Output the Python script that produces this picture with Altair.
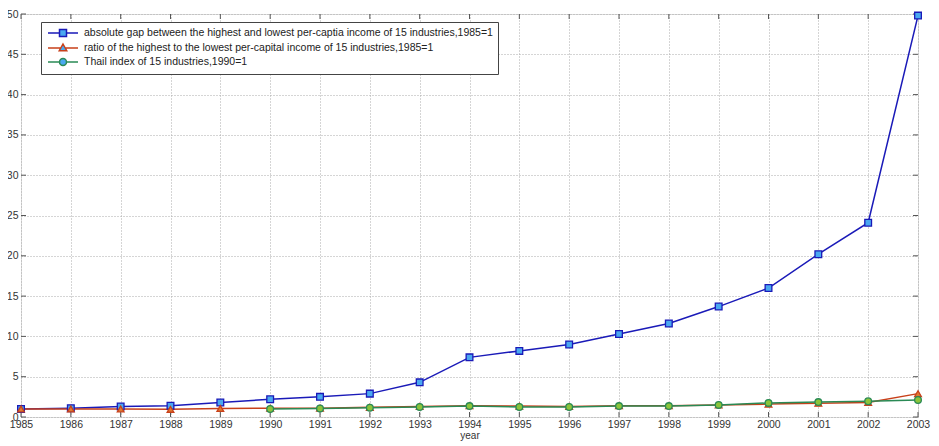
import altair as alt
import pandas as pd

years = list(range(1985, 2004))
y_ticks = list(range(0, 51, 5))
abs_gap = [1.0, 1.1, 1.3, 1.4, 1.8, 2.2, 2.5, 2.9, 4.3, 7.4, 8.2, 9.0, 10.3, 11.6, 13.7, 16.0, 20.2, 24.1, 49.8]
ratio = [1.0, 1.0, 1.0, 0.95, 1.05, 1.1, 1.1, 1.2, 1.3, 1.4, 1.35, 1.3, 1.4, 1.4, 1.5, 1.6, 1.7, 1.8, 2.9]
theil = [None, None, None, None, None, 1.0, 1.05, 1.15, 1.25, 1.35, 1.25, 1.25, 1.35, 1.35, 1.5, 1.75, 1.85, 1.95, 2.1]

names = [
    "absolute gap between the highest and lowest per-captia income of 15 industries,1985=1",
    "ratio of the highest to the lowest per-capital income of 15 industries,1985=1",
    "Thail index of 15 industries,1990=1",
]
line_colors = ["#1a1ab8", "#c8401a", "#2a8a55"]
fill_colors = ["#4aa8f0", "#e07a30", "#8cc43a"]
shapes = ["square", "triangle-up", "circle"]

# legend glyphs: short line with the marker in the middle
legend_paths = [
    "M-3,0H-0.7M0.7,0H3M-0.7,-0.7H0.7V0.7H-0.7Z",
    "M-3,0H-0.44M0.44,0H3M0,-0.8L0.75,0.55L-0.75,0.55Z",
    "M-3,0H-0.7M0.7,0H3M-0.7,0A0.7,0.7,0,1,1,0.7,0A0.7,0.7,0,1,1,-0.7,0Z",
]

rows = []
for name, vals in zip(names, [abs_gap, ratio, theil]):
    for y, v in zip(years, vals):
        if v is not None:
            rows.append({"year": y, "value": v, "series": name})
df = pd.DataFrame(rows)
xt_df = pd.DataFrame({"year": years})
yt_df = pd.DataFrame({"value": y_ticks})

def pick(lst):
    return "datum.index == 0 ? '%s' : (datum.index == 1 ? '%s' : '%s')" % tuple(lst)

font = "Liberation Sans"
xscale = alt.Scale(domain=[1985, 2003], nice=False, zero=False)
yscale = alt.Scale(domain=[0, 50], nice=False)
xs = alt.X("year:Q", scale=xscale,
           axis=alt.Axis(values=years, format="d", title="year", titleFontWeight="normal",
                         titleFontSize=10, titleColor="#333", titlePadding=1,
                         labelFontSize=10.5, labelColor="#333", labelPadding=2,
                         labelFlush=False, labelOverlap=False,
                         grid=True, gridDash=[1, 2], gridColor="#aaa",
                         tickSize=0, domain=False, labelFont=font, titleFont=font))
ys = alt.Y("value:Q", scale=yscale,
           axis=alt.Axis(values=y_ticks, title=None,
                         labelFontSize=10.5, labelColor="#333", labelPadding=3,
                         labelFlush=False,
                         grid=True, gridDash=[1, 2], gridColor="#aaa",
                         tickSize=0, domain=False, labelFont=font))

legend = alt.Legend(title=None, orient="none", legendX=20, legendY=8,
                    fillColor="white", strokeColor="#444", padding=5,
                    labelFontSize=10.5, labelFont=font, labelColor="#222",
                    symbolSize=100, symbolStrokeWidth=1.5, rowPadding=1,
                    symbolOffset=11, labelOffset=15, labelLimit=700,
                    symbolType=alt.ExprRef(expr=pick(legend_paths)),
                    symbolFillColor=alt.ExprRef(expr=pick(fill_colors)))

col = alt.Color("series:N", scale=alt.Scale(domain=names, range=line_colors), legend=legend)

# inward tick marks (MATLAB style), sharing the same axes definitions
tick_top = alt.Chart(xt_df).mark_rule(color="#555", strokeWidth=1).encode(x=xs, y=alt.value(0), y2=alt.value(5))
tick_bot = alt.Chart(xt_df).mark_rule(color="#555", strokeWidth=1).encode(x=xs, y=alt.value(403), y2=alt.value(398))
tick_l = alt.Chart(yt_df).mark_rule(color="#555", strokeWidth=1).encode(y=ys, x=alt.value(0), x2=alt.value(5))
tick_r = alt.Chart(yt_df).mark_rule(color="#555", strokeWidth=1).encode(y=ys, x=alt.value(897), x2=alt.value(892))

lines = alt.Chart(df).mark_line(strokeWidth=1.5).encode(x=xs, y=ys, color=col)
layers = [lines, tick_top, tick_bot, tick_l, tick_r]
for name, fc, shp in zip(names, fill_colors, shapes):
    layers.append(
        alt.Chart(df).transform_filter(alt.datum.series == name)
        .mark_point(size=45, strokeWidth=1.3, opacity=1, shape=shp, fill=fc, filled=False)
        .encode(x=xs, y=ys, color=col)
    )

chart = alt.layer(*layers).properties(
    width=897, height=403,
    autosize=alt.AutoSizeParams(type="none"),
    padding={"left": 13, "top": 6, "right": 13, "bottom": 28},
).configure_view(stroke="#666", strokeWidth=1.2).configure(background="white")

chart.save("out.html", embed_options={"renderer": "svg", "actions": False})
